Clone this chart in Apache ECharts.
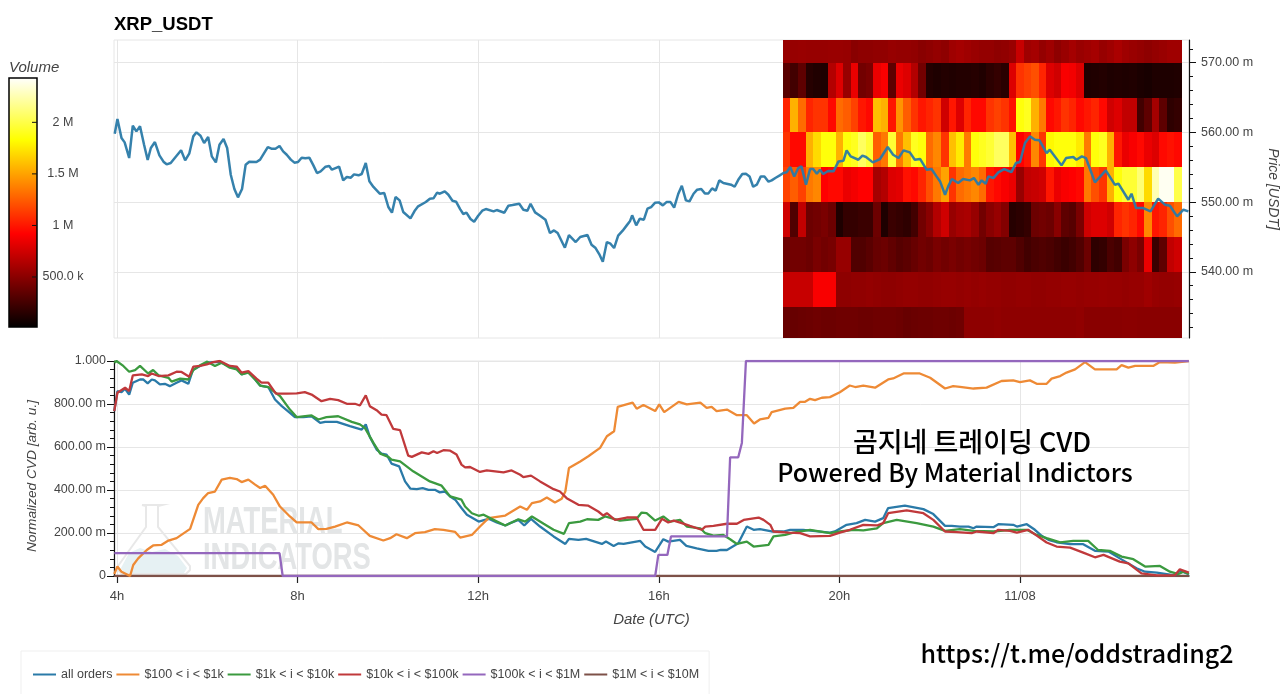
<!DOCTYPE html>
<html>
<head>
<meta charset="utf-8">
<title>XRP_USDT</title>
<script src="https://cdn.jsdelivr.net/npm/echarts@6/dist/echarts.min.js"></script>
<style>
html, body { margin: 0; padding: 0; background: #fff; }
#chart { width: 1280px; height: 694px; }
</style>
</head>
<body>
<div id="chart"></div>
<script>
// price line, hours since 00:00 of 11/07
var priceHours = [3.95,4.01,4.10,4.17,4.27,4.35,4.43,4.51,4.60,4.68,4.75,4.84,4.94,5.03,5.10,5.19,5.28,5.42,5.51,5.60,5.69,5.76,5.85,5.93,6.02,6.10,6.19,6.27,6.36,6.44,6.52,6.60,6.68,6.77,6.85,6.93,7.09,7.17,7.34,7.42,7.51,7.60,7.68,7.76,7.85,7.93,8.01,8.09,8.17,8.26,8.35,8.43,8.51,8.62,8.70,8.76,8.92,9.01,9.09,9.18,9.25,9.35,9.42,9.51,9.59,9.68,9.82,9.92,10.01,10.09,10.17,10.26,10.34,10.50,10.59,10.67,10.84,10.93,11.01,11.09,11.15,11.26,11.34,11.43,11.51,11.60,11.67,11.74,11.83,11.91,12.00,12.09,12.17,12.34,12.41,12.58,12.67,12.76,12.91,13.00,13.09,13.16,13.26,13.37,13.49,13.59,13.68,13.76,13.92,14.01,14.16,14.26,14.42,14.51,14.60,14.68,14.76,14.85,14.93,15.01,15.10,15.20,15.29,15.36,15.41,15.50,15.58,15.67,15.75,15.83,15.92,16.00,16.09,16.17,16.26,16.34,16.43,16.51,16.60,16.68,16.77,16.85,16.94,17.02,17.10,17.18,17.26,17.34,17.43,17.60,17.68,17.76,17.85,17.93,18.01,18.09,18.17,18.26,18.34,18.43,18.50,18.59,18.68,18.76,18.83,18.91,19.00,19.09,19.16,19.26,19.35,19.42,19.50,19.57,19.64,19.75,19.87,19.98,20.09,20.16,20.25,20.42,20.51,20.59,20.74,20.90,21.07,21.19,21.31,21.42,21.56,21.67,21.79,21.93,22.04,22.15,22.23,22.34,22.41,22.49,22.63,22.74,22.89,22.98,23.08,23.15,23.24,23.30,23.41,23.52,23.65,23.81,23.91,24.00,24.11,24.22,24.33,24.43,24.59,24.66,24.92,25.02,25.18,25.25,25.37,25.46,25.66,25.90,26.10,26.18,26.40,26.47,26.57,26.73,26.89,27.06,27.21,27.32,27.48,27.62,27.73];
var priceValues = [559.82,561.92,559.2,558.57,556.33,560.96,560.15,560.87,558.24,556.04,557.76,558.62,556.71,555.8,555.42,555.61,556.33,557.43,555.99,556.95,559.43,560.01,559.53,558.48,559.34,556.56,555.7,558.24,559.05,557.76,553.93,551.88,550.68,551.88,555.37,555.8,555.75,556.09,557.9,557.66,557.66,558.05,557.28,556.8,556.09,555.66,555.75,556.37,556.28,556.37,555.27,554.17,554.41,555.08,555.18,554.65,555.08,553.12,553.6,553.5,553.98,553.84,554.03,555.61,552.98,552.17,551.21,551.3,549.3,548.48,550.73,550.25,548.58,547.67,548.72,549.39,550.01,550.49,550.54,551.35,551.2,551.54,551.06,550.2,550.06,549.0,548.29,548.48,547.57,547.19,548.05,548.77,549.0,548.67,548.86,548.48,549.49,549.58,549.77,548.91,548.77,549.77,548.53,548.05,547.47,545.56,545.94,545.56,543.46,545.27,544.27,544.99,545.27,543.89,543.41,542.55,541.45,544.27,544.03,543.41,545.18,545.9,546.66,547.24,548.1,546.66,547.62,547.47,549.05,549.29,549.91,549.96,549.53,550.0,550.0,549.2,551.16,552.35,550.25,550.1,551.2,551.78,551.87,551.25,551.25,551.97,551.64,553.12,552.74,552.5,552.2,553.2,554.03,554.07,553.69,552.2,552.5,553.69,553.69,552.93,553.12,553.5,553.84,554.17,554.27,555.03,553.69,554.89,555.13,552.5,554.74,554.74,554.07,554.65,554.03,554.47,554.41,555.84,555.94,557.42,556.56,556.08,556.66,556.47,555.7,556.18,557.9,556.8,556.32,557.42,557.14,556.08,556.18,554.65,554.74,553.69,552.97,551.06,552.26,553.31,552.74,553.31,553.12,553.45,552.5,553.12,552.64,553.69,553.45,554.27,554.74,554.31,555.6,555.75,558.48,559.43,558.95,558.86,557.04,557.52,555.27,556.32,556.47,556.08,556.56,556.32,552.83,554.55,552.5,552.64,550.34,551.2,549.15,549.15,548.67,550.49,549.63,549.48,547.95,548.91,548.67];

// normalized CVD lines
var allOrdersHours = [3.94,4.01,4.10,4.18,4.27,4.35,4.51,4.58,4.68,4.77,4.84,4.95,5.06,5.17,5.32,5.43,5.58,5.68,5.84,5.99,6.13,6.28,6.47,6.65,6.76,6.91,7.06,7.17,7.35,7.50,7.65,7.83,7.94,8.13,8.31,8.50,8.61,8.87,9.16,9.42,9.51,9.60,9.75,9.86,9.97,10.08,10.25,10.38,10.50,10.64,10.77,10.90,11.04,11.15,11.26,11.38,11.49,11.63,11.75,12.01,12.23,12.41,12.60,12.71,12.89,13.02,13.17,13.37,13.67,13.93,14.01,14.22,14.39,14.74,14.83,15.00,15.11,15.22,15.59,15.70,15.92,16.10,16.21,16.47,16.61,16.84,17.10,17.28,17.37,17.51,17.76,17.95,18.10,18.24,18.50,18.76,18.91,19.20,19.79,19.90,20.16,20.38,20.57,20.79,20.97,21.08,21.45,21.86,22.08,22.34,22.49,22.67,22.86,22.97,23.04,23.41,23.52,23.85,23.93,24.15,24.33,24.48,24.63,24.81,25.11,25.40,25.66,25.96,26.21,26.58,26.77,27.03,27.25,27.43,27.54,27.74];
var allOrdersValues = [.767,.860,.855,.871,.844,.899,.914,.914,.896,.914,.910,.891,.894,.883,.899,.910,.894,.958,.977,.992,.995,.995,.977,.969,.938,.949,.914,.886,.879,.821,.790,.759,.739,.739,.743,.712,.717,.717,.697,.681,.705,.647,.588,.569,.565,.523,.510,.440,.406,.404,.409,.401,.401,.389,.393,.370,.355,.316,.285,.253,.266,.249,.235,.246,.261,.235,.266,.230,.184,.149,.173,.168,.173,.149,.160,.140,.152,.149,.163,.137,.112,.171,.160,.168,.140,.129,.117,.117,.121,.121,.152,.230,.215,.218,.207,.207,.215,.215,.202,.207,.238,.246,.261,.253,.269,.316,.327,.311,.288,.233,.233,.230,.230,.222,.230,.227,.241,.238,.230,.241,.215,.187,.168,.157,.148,.148,.117,.114,.082,.036,.020,.016,.009,.003,.025,.009];

var tier1Hours = [3.94,4.01,4.10,4.29,4.36,4.47,4.66,4.80,4.99,5.14,5.32,5.62,5.80,5.91,6.02,6.17,6.32,6.50,6.65,6.76,6.91,7.06,7.17,7.28,7.46,7.61,7.83,7.98,8.31,8.46,8.64,8.83,9.09,9.35,9.60,9.90,10.05,10.19,10.42,10.60,10.82,11.04,11.23,11.49,11.60,11.86,12.04,12.23,12.60,12.93,13.08,13.19,13.37,13.52,13.70,13.85,13.93,14.01,14.26,14.44,14.70,14.85,15.01,15.09,15.42,15.51,15.66,15.92,16.01,16.12,16.44,16.62,16.92,17.06,17.17,17.28,17.51,17.73,17.95,18.11,18.24,18.43,18.50,18.80,18.98,19.13,19.24,19.35,19.46,19.61,19.79,20.01,20.23,20.35,20.53,20.79,21.08,21.19,21.42,21.78,22.01,22.34,22.52,22.67,22.97,23.26,23.59,23.85,24.00,24.22,24.37,24.59,24.70,24.89,25.03,25.22,25.44,25.66,26.14,26.25,26.40,26.55,26.95,27.10,27.43,27.74];
var tier1Values = [.009,.044,.020,0,.051,.082,.121,.142,.145,.165,.176,.219,.331,.362,.386,.393,.448,.456,.451,.437,.448,.425,.409,.420,.378,.323,.277,.249,.249,.218,.219,.230,.249,.235,.187,.165,.176,.194,.176,.199,.204,.218,.215,.205,.179,.191,.230,.269,.281,.323,.308,.339,.347,.365,.342,.359,.393,.502,.533,.557,.596,.650,.673,.787,.806,.778,.795,.767,.798,.762,.810,.798,.806,.782,.787,.767,.774,.748,.748,.709,.728,.736,.762,.778,.782,.810,.810,.824,.818,.829,.832,.855,.886,.879,.886,.876,.914,.919,.942,.942,.922,.872,.883,.880,.872,.876,.907,.910,.902,.910,.894,.894,.918,.930,.946,.961,.995,.961,.961,.981,.969,.977,.977,.995,.992,1];

var tier2Hours = [3.94,3.99,4.14,4.27,4.40,4.51,4.69,4.80,4.92,5.14,5.21,5.40,5.58,5.69,5.84,6.00,6.17,6.32,6.50,6.65,6.76,6.91,7.06,7.17,7.35,7.61,7.83,7.98,8.31,8.46,8.64,8.90,9.20,9.38,9.49,9.68,9.83,10.01,10.08,10.27,10.56,10.93,11.19,11.38,11.63,11.71,11.86,12.01,12.12,12.34,12.60,12.74,12.89,13.04,13.19,13.45,13.67,13.90,14.01,14.26,14.41,14.66,14.81,15.14,15.51,15.62,15.73,15.92,16.10,16.25,16.47,16.62,16.92,17.03,17.21,17.43,17.58,17.73,17.95,18.10,18.43,18.54,18.80,18.98,19.35,19.79,20.01,20.31,20.53,20.83,20.97,21.27,21.71,22.08,22.34,22.67,22.97,23.41,23.78,24.15,24.37,24.59,24.89,25.18,25.51,25.73,25.99,26.25,26.51,26.77,27.10,27.32,27.51,27.62,27.74];
var tier2Values = [.992,1,.977,.950,.958,.977,.942,.958,.933,.922,.904,.918,.914,.958,.980,.997,.977,.992,.969,.961,.938,.946,.914,.886,.879,.837,.774,.739,.747,.728,.739,.743,.717,.705,.689,.619,.569,.554,.541,.533,.487,.440,.420,.370,.355,.323,.292,.280,.285,.261,.235,.249,.264,.253,.277,.243,.215,.196,.246,.253,.264,.261,.277,.258,.266,.295,.292,.258,.277,.253,.261,.230,.222,.199,.188,.191,.171,.149,.160,.137,.145,.184,.191,.202,.215,.199,.207,.215,.212,.222,.246,.261,.246,.230,.210,.218,.210,.207,.215,.215,.191,.176,.156,.163,.163,.121,.117,.090,.078,.044,.047,.020,.009,.020,.009];

var tier3Hours = [3.94,4.01,4.18,4.27,4.35,4.55,4.69,4.77,4.92,5.14,5.32,5.43,5.60,5.69,5.84,5.99,6.13,6.28,6.50,6.65,6.76,6.91,7.09,7.20,7.35,7.52,7.76,7.98,8.16,8.31,8.53,8.72,8.90,9.09,9.27,9.38,9.51,9.60,9.75,9.86,9.97,10.12,10.27,10.45,10.53,10.75,10.90,11.01,11.09,11.23,11.38,11.52,11.63,11.71,11.82,12.04,12.19,12.56,12.74,12.93,13.00,13.17,13.37,13.67,13.81,13.96,14.22,14.44,14.66,14.77,14.85,15.03,15.29,15.51,15.66,15.92,16.07,16.21,16.33,16.51,16.69,16.95,17.03,17.21,17.51,17.73,17.88,18.21,18.32,18.47,18.54,18.87,19.13,19.35,19.79,20.01,20.23,20.53,20.83,20.97,21.08,21.49,21.86,22.08,22.34,22.60,22.93,23.04,23.41,23.52,23.78,23.93,24.18,24.37,24.59,24.81,25.11,25.40,25.66,25.85,26.21,26.40,26.69,27.03,27.43,27.54,27.74];
var tier3Values = [.767,.852,.876,.860,.933,.938,.930,.942,.930,.933,.950,.949,.927,.974,.977,.984,.995,1,.977,.974,.946,.953,.918,.899,.899,.848,.848,.849,.855,.844,.813,.824,.818,.801,.801,.793,.840,.790,.771,.751,.748,.684,.678,.560,.554,.575,.568,.580,.572,.585,.583,.565,.518,.505,.507,.484,.491,.482,.491,.471,.460,.467,.440,.404,.393,.362,.331,.327,.300,.281,.292,.261,.272,.272,.215,.215,.266,.249,.258,.246,.233,.215,.230,.233,.243,.243,.261,.272,.261,.238,.207,.202,.199,.184,.187,.202,.215,.238,.235,.246,.292,.305,.292,.261,.207,.204,.199,.207,.199,.215,.210,.202,.215,.188,.156,.137,.132,.109,.087,.098,.067,.059,.012,.003,.003,.031,.016];

var tier4Hours = [3.94,7.60,7.67,15.92,15.99,16.19,16.27,17.51,17.58,17.76,17.84,17.93,27.74];
var tier4Values = [.106,.106,0,0,.098,.098,.184,.184,.552,.552,.619,1,1];

var tier5Hours = [3.94,27.74];
var tier5Values = [0,0];

var seriesNames = ['all orders', '$100 < i < $1k', '$1k < i < $10k', '$10k < i < $100k', '$100k < i < $1M', '$1M < i < $10M'];
var seriesColors = ['#2a7aa8', '#ee8a35', '#3b9a3f', '#c0393b', '#9467bd', '#7d5148'];

// volume heatmap: 10 minute columns from 18:45, rows of 5 USDT
var heatStartHour = 18.75;
var heatStepHour = 1 / 6;
var heatEdges = [573.26,570,565,560,555,550,545,540,535,530.5];
var heatRow0 = [.55,.55,.56,.55,.55,.55,.56,.56,.55,.5,.52,.52,.53,.53,.55,.54,.54,.53,.5,.52,.54,.52,.58,.6,.58,.56,.54,.54,.52,.53,.56,.72,.58,.6,.54,.58,.52,.56,.6,.56,.58,.6,.55,.58,.62,.58,.56,.54,.52,.54,.56,.58,.58];
var heatRow1 = [.33,.25,.35,.15,.13,.12,.65,.8,.55,.85,.42,.45,.85,.9,.35,.85,.8,.65,.42,.14,.12,.14,.13,.14,.14,.15,.13,.17,.2,.16,.8,1.1,1.15,1.2,1.05,.8,.75,.9,.88,.8,.12,.13,.14,.12,.13,.12,.13,.11,.1,.12,.12,.12,.13];
var heatRow2 = [1.05,1.55,1.3,1.05,1.1,1.1,.95,1.3,1.25,1.15,1.0,.95,1.6,1.55,1.0,1.45,1.25,1.1,1.0,1.05,1.1,.75,1.0,.8,1.05,.95,.95,1.1,1.15,1.1,.98,1.85,1.9,1.55,1.35,.95,1.0,1.1,1.05,.95,1.0,1.05,.95,.75,.8,.7,.7,.25,.35,.6,.35,.18,.2];
var heatRow3 = [1.1,.95,.95,1.55,1.7,1.85,1.85,1.55,1.85,1.9,2.05,1.95,1.25,1.35,1.95,1.35,1.6,1.9,1.85,1.3,1.4,1.1,1.6,1.75,1.35,1.85,1.9,1.95,2.05,2.05,1.6,.92,1.0,1.4,1.1,1.8,1.85,1.85,1.85,1.75,1.35,1.85,1.9,1.55,1.0,.85,.9,.95,.85,.8,.95,.98,.95];
var heatRow4 = [1.15,1.25,1.15,1.35,1.4,.92,.95,.95,.85,.88,.92,.92,.6,.65,.8,.82,.98,.95,1.05,1.2,1.35,1.5,1.1,1.3,1.35,1.4,1.3,1.0,.95,.9,.85,.55,.7,.72,.75,1.0,.85,.9,.92,.95,1.35,1.2,1.1,1.55,1.85,1.95,1.95,2.1,1.7,2.25,2.4,2.4,2.0];
var heatRow5 = [.75,.3,.7,.4,.42,.45,.4,.12,.2,.2,.22,.22,.4,.12,.22,.2,.18,.25,.42,.5,.65,.75,.55,.6,.62,.55,.42,.5,.55,.48,.15,.17,.2,.4,.42,.4,.5,.35,.32,.45,.75,.8,.8,.75,1.05,1.1,1.05,.95,1.4,1.0,1.05,1.2,1.3];
var heatRow6 = [.4,.42,.42,.4,.45,.42,.44,.55,.55,.3,.3,.33,.38,.4,.36,.32,.34,.38,.42,.4,.45,.42,.45,.42,.44,.42,.4,.32,.33,.35,.35,.3,.25,.28,.3,.28,.25,.22,.25,.3,.4,.18,.2,.28,.25,.45,.52,.45,.85,.22,.35,.7,.75];
var heatRow7 = [.72,.72,.72,.72,.9,.9,.9,.52,.52,.53,.53,.54,.53,.52,.52,.53,.54,.54,.53,.53,.54,.55,.55,.54,.55,.54,.55,.54,.54,.53,.53,.54,.54,.53,.53,.54,.54,.55,.55,.54,.55,.55,.56,.55,.55,.54,.55,.55,.58,.55,.54,.54,.55];
var heatRow8 = [.38,.38,.39,.4,.41,.4,.4,.41,.41,.41,.4,.4,.41,.41,.41,.4,.38,.39,.4,.4,.41,.41,.4,.41,.52,.52,.52,.52,.53,.52,.52,.52,.52,.52,.52,.52,.52,.52,.52,.53,.5,.5,.5,.5,.5,.51,.51,.5,.5,.5,.5,.5,.5];
var heatRows = [heatRow0, heatRow1, heatRow2, heatRow3, heatRow4, heatRow5, heatRow6, heatRow7, heatRow8];

// axis ticks
var hourTicks = [4, 8, 12, 16, 20, 24];
var priceTicks = [540, 550, 560, 570];
var priceMinorTicks = [532,534,536,538,542,544,546,548,552,554,556,558,562,564,566,568,572];
var volumeTicks = [.5, 1, 1.5, 2];
var volumeMin = 0.015;
var volumeMax = 2.43;
var volumeColors = ['#000000', '#550000', '#aa0000', '#ff0000', '#ff5500', '#ffaa00', '#ffff00', '#ffff80', '#ffffff'];

var FONT = '"Liberation Sans", Arial, sans-serif';
var TEXT_COLOR = '#444';
var GRID_COLOR = '#e6e6e6';

function pairs(xs, ys) {
	return xs.map(function (x, i) {
		return [x, ys[i]];
	});
}

function buildHeatData() {
	var res = [];
	heatRows.forEach(function (row, r) {
		row.forEach(function (v, c) {
			var x0 = heatStartHour + c * heatStepHour;
			res.push([x0, x0 + heatStepHour, heatEdges[r], heatEdges[r + 1], v]);
		});
	});
	return res;
}

function renderHeatCell(params, api) {
	var p0 = api.coord([api.value(0), api.value(2)]);
	var p1 = api.coord([api.value(1), api.value(3)]);
	var x0 = Math.round(p0[0]), y0 = Math.round(p0[1]);
	return {
		type: 'rect',
		shape: { x: x0, y: y0, width: Math.round(p1[0]) - x0, height: Math.round(p1[1]) - y0 },
		style: { fill: api.visual('color') }
	};
}

function renderColorBar(params, api) {
	var p0 = api.coord([0, volumeMax]);
	var p1 = api.coord([1, volumeMin]);
	var stops = volumeColors.map(function (c, i) {
		return { offset: 1 - i / (volumeColors.length - 1), color: c };
	}).reverse();
	var children = [{
		type: 'rect',
		shape: { x: p0[0], y: p0[1], width: p1[0] - p0[0], height: p1[1] - p0[1] },
		style: {
			fill: new echarts.graphic.LinearGradient(0, 0, 0, 1, stops),
			stroke: '#000',
			lineWidth: 1.5
		}
	}];
	// ticks sit on the bar, inside its right edge
	volumeTicks.forEach(function (v) {
		var p = api.coord([1, v]);
		children.push({
			type: 'line',
			shape: { x1: p[0] - 5, y1: p[1], x2: p[0], y2: p[1] },
			style: { stroke: '#111', lineWidth: 1 }
		});
	});
	return { type: 'group', children: children };
}

function lineSeries(index, hours, values) {
	return {
		name: seriesNames[index],
		type: 'line',
		xAxisIndex: 1,
		yAxisIndex: 2,
		symbol: 'none',
		clip: true,
		z: index === 5 ? 1 : 2,
		itemStyle: { color: seriesColors[index] },
		lineStyle: { color: seriesColors[index], width: 2.3 },
		data: pairs(hours, values)
	};
}

function cvdLabel(v) {
	if (v === 0) return '0';
	if (v === 1) return '1.000';
	return (v * 1000).toFixed(2) + ' m';
}

function hourLabel(v) {
	return v === 24 ? '11/08' : v + 'h';
}

function volumeLabel(v) {
	return v < 1 ? (v * 1000).toFixed(1) + ' k' : v + ' M';
}

var myChart = echarts.init(document.getElementById('chart'));

var option = {
	animation: false,
	backgroundColor: '#fff',
	textStyle: { fontFamily: FONT },
	title: {
		text: 'XRP_USDT',
		left: 114,
		top: 15,
		padding: 0,
		textStyle: { fontFamily: FONT, fontSize: 18.5, fontWeight: 'bold', color: '#000' }
	},
	legend: {
		left: 21,
		top: 651,
		padding: [17, 10, 17, 12],
		borderColor: '#efefef',
		borderWidth: 1,
		icon: 'rect',
		itemWidth: 23,
		itemHeight: 2,
		itemGap: 4,
		selectedMode: false,
		data: seriesNames,
		textStyle: { fontFamily: FONT, fontSize: 12.5, color: TEXT_COLOR }
	},
	visualMap: {
		show: false,
		type: 'continuous',
		seriesIndex: 0,
		dimension: 4,
		min: volumeMin,
		max: volumeMax,
		inRange: { color: volumeColors }
	},
	grid: [
		{ left: 114, top: 40, width: 1075, height: 298, outerBoundsMode: 'none', show: true, borderColor: GRID_COLOR, borderWidth: 1 },
		{ left: 114, top: 361, width: 1075, height: 215, outerBoundsMode: 'none', show: true, borderColor: GRID_COLOR, borderWidth: 1 },
		{ left: 9, top: 78, width: 28, height: 249, outerBoundsMode: 'none' }
	],
	xAxis: [
		{
			type: 'value', gridIndex: 0, min: 3.934, max: 27.743,
			axisLine: { show: false },
			axisTick: { show: false, customValues: hourTicks },
			axisLabel: { show: false },
			splitLine: { show: true, lineStyle: { color: GRID_COLOR } }
		},
		{
			type: 'value', gridIndex: 1, min: 3.934, max: 27.743,
			name: 'Date (UTC)',
			nameLocation: 'middle',
			nameGap: 36,
			nameTextStyle: { fontFamily: FONT, fontSize: 15, fontStyle: 'italic', color: TEXT_COLOR },
			axisLine: { show: true, onZero: false, lineStyle: { color: '#333', width: 1.5 } },
			axisTick: { show: true, length: 7, customValues: hourTicks, lineStyle: { color: '#222', width: 1.2 } },
			axisLabel: { show: true, margin: 14, customValues: hourTicks, formatter: hourLabel, fontFamily: FONT, fontSize: 13, color: TEXT_COLOR },
			splitLine: { show: true, lineStyle: { color: GRID_COLOR } }
		},
		{
			type: 'value', gridIndex: 2, min: 0, max: 1, show: false
		}
	],
	yAxis: [
		{
			type: 'value', gridIndex: 0, position: 'right', min: 530.5, max: 573.26,
			name: 'Price [USDT]',
			nameLocation: 'middle',
			nameRotate: -90,
			nameGap: 77,
			nameTextStyle: { fontFamily: FONT, fontSize: 14, fontStyle: 'italic', color: TEXT_COLOR },
			axisLine: { show: true, lineStyle: { color: '#111', width: 1.2 } },
			axisTick: { show: true, length: 7, customValues: priceTicks, lineStyle: { color: '#111' } },
			axisLabel: { show: true, margin: 12, customValues: priceTicks, fontFamily: FONT, fontSize: 12.5, color: TEXT_COLOR, formatter: function (v) { return v.toFixed(2) + ' m'; } },
			splitLine: { show: true, lineStyle: { color: GRID_COLOR } }
		},
		{
			// second axis only carries the minor ticks
			type: 'value', gridIndex: 0, position: 'right', min: 530.5, max: 573.26,
			axisLine: { show: false },
			axisTick: { show: true, length: 4, customValues: priceMinorTicks, lineStyle: { color: '#111' } },
			axisLabel: { show: false },
			splitLine: { show: false }
		},
		{
			type: 'value', gridIndex: 1, min: 0, max: 1, interval: 0.2,
			axisLine: { show: true, onZero: false, lineStyle: { color: '#111', width: 1.2 } },
			axisTick: { show: true, length: 7, lineStyle: { color: '#111' } },
			minorTick: { show: true, splitNumber: 5, length: 4, lineStyle: { color: '#111' } },
			axisLabel: { show: true, margin: 8, formatter: cvdLabel, fontFamily: FONT, fontSize: 12.5, color: TEXT_COLOR },
			splitLine: { show: true, lineStyle: { color: GRID_COLOR } }
		},
		{
			type: 'value', gridIndex: 2, position: 'right', min: volumeMin, max: volumeMax,
			axisLine: { show: false },
			axisTick: { show: false, customValues: volumeTicks },
			axisLabel: { show: true, margin: 26, align: 'center', customValues: volumeTicks, formatter: volumeLabel, fontFamily: FONT, fontSize: 12.5, color: TEXT_COLOR },
			splitLine: { show: false }
		}
	],
	series: [
		{
			type: 'custom',
			xAxisIndex: 0,
			yAxisIndex: 0,
			z: 1,
			renderItem: renderHeatCell,
			encode: { x: [0, 1], y: [2, 3] },
			data: buildHeatData()
		},
		{
			type: 'custom',
			xAxisIndex: 2,
			yAxisIndex: 3,
			z: 1,
			renderItem: renderColorBar,
			data: [[0, volumeMin]]
		},
		{
			name: 'price',
			type: 'line',
			xAxisIndex: 0,
			yAxisIndex: 0,
			symbol: 'none',
			z: 3,
			lineStyle: { color: '#2a7aa8', width: 2.5, opacity: 0.95 },
			data: pairs(priceHours, priceValues)
		},
		lineSeries(0, allOrdersHours, allOrdersValues),
		lineSeries(1, tier1Hours, tier1Values),
		lineSeries(2, tier2Hours, tier2Values),
		lineSeries(3, tier3Hours, tier3Values),
		lineSeries(4, tier4Hours, tier4Values),
		lineSeries(5, tier5Hours, tier5Values)
	],
	graphic: [
		// watermark
		{
			type: 'polygon', z: 1, silent: true,
			shape: { points: [[129, 553], [140, 548], [152, 552], [165, 549], [178, 556], [187, 568], [184, 573], [124, 573], [121, 568]] },
			style: { fill: '#e6f1f3' }
		},
		{
			type: 'polyline', z: 1, silent: true,
			shape: { points: [[142, 505], [162, 505], [158, 506], [158, 527], [190, 566], [190, 570], [186, 574], [122, 574], [118, 570], [118, 566], [146, 527], [146, 506], [142, 505]] },
			style: { stroke: '#e8e8e8', lineWidth: 2, fill: null }
		},
		{
			type: 'text', z: 1, silent: true, x: 203, y: 523, scaleX: 0.74,
			style: { text: 'MATERIAL', font: 'bold 37px ' + FONT, fill: '#e3e5e6', textVerticalAlign: 'middle' }
		},
		{
			type: 'text', z: 1, silent: true, x: 203, y: 559, scaleX: 0.74,
			style: { text: 'INDICATORS', font: 'bold 37px ' + FONT, fill: '#e3e5e6', textVerticalAlign: 'middle' }
		},
		// labels and captions
		{
			type: 'text', z: 10, x: 9, y: 68,
			style: { text: 'Volume', font: 'italic 15px ' + FONT, fill: TEXT_COLOR, textVerticalAlign: 'middle' }
		},
		{
			type: 'text', z: 10, x: 32, y: 476, rotation: Math.PI / 2,
			style: { text: 'Normalized CVD [arb. u.]', font: 'italic 13.7px ' + FONT, fill: TEXT_COLOR, textAlign: 'center', textVerticalAlign: 'middle' }
		},
		{
			type: 'text', z: 10, x: 972, y: 442,
			style: { text: '곰지네 트레이딩 CVD', font: '500 27px "Noto Sans CJK KR"', fill: '#000', textAlign: 'center', textVerticalAlign: 'middle' }
		},
		{
			type: 'text', z: 10, x: 955, y: 472,
			style: { text: 'Powered By Material Indictors', font: '500 25px "Noto Sans CJK KR"', fill: '#000', textAlign: 'center', textVerticalAlign: 'middle' }
		},
		{
			type: 'text', z: 10, x: 1077, y: 653,
			style: { text: 'https://t.me/oddstrading2', font: '500 25px "Noto Sans CJK KR"', fill: '#000', textAlign: 'center', textVerticalAlign: 'middle' }
		}
	]
};

myChart.setOption(option);
</script>
</body>
</html>
